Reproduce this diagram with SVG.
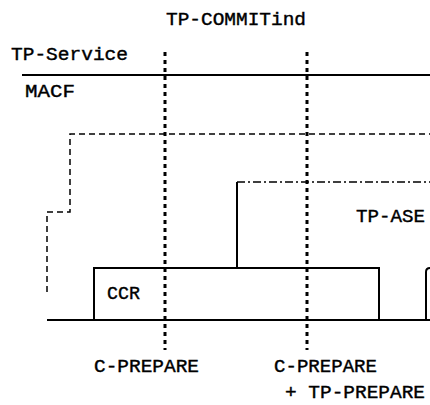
<svg xmlns="http://www.w3.org/2000/svg" width="430" height="405" viewBox="0 0 430 405">
<style>
text{font-family:"Liberation Mono","DejaVu Sans Mono",monospace;font-size:19px;fill:#000;stroke:#000;stroke-width:0.4}
.solid{fill:none;stroke:#000;stroke-width:2}
.dot{fill:none;stroke:#000;stroke-width:3;stroke-dasharray:4 4}
.dash{fill:none;stroke:#000;stroke-width:1.5;stroke-dasharray:6 4}
.dashdot{fill:none;stroke:#000;stroke-width:1.5;stroke-dasharray:8 3 2 3}
</style>
<rect width="430" height="405" fill="#fff"/>
<g id="connectors">
<line class="solid" x1="22" y1="75" x2="430" y2="75"/>
<path class="dash" d="M47,292 V212 H70 V134 H430"/>
<path class="dashdot" d="M237,182 H430"/>
<line class="solid" x1="237" y1="182" x2="237" y2="268"/>
<line class="solid" x1="47" y1="320" x2="430" y2="320"/>
<line class="dot" x1="165" y1="52" x2="165" y2="350"/>
<line class="dot" x1="307" y1="52" x2="307" y2="350"/>
</g>
<g id="ccr">
<rect class="solid" x="94" y="268" width="285" height="52"/>
<text x="107" y="299" textLength="33" lengthAdjust="spacingAndGlyphs">CCR</text>
</g>
<g id="next-box">
<path class="solid" d="M426,320 V272 Q426,268 430,268"/>
</g>
<g id="labels">
<text x="166" y="25" textLength="140" lengthAdjust="spacingAndGlyphs">TP-COMMITind</text>
<text x="11" y="60" textLength="117" lengthAdjust="spacingAndGlyphs">TP-Service</text>
<text x="25" y="97" textLength="50" lengthAdjust="spacingAndGlyphs">MACF</text>
<text x="356" y="222" textLength="69" lengthAdjust="spacingAndGlyphs">TP-ASE</text>
<text x="94" y="372" textLength="105" lengthAdjust="spacingAndGlyphs">C-PREPARE</text>
<text x="274" y="372" textLength="103" lengthAdjust="spacingAndGlyphs">C-PREPARE</text>
<text x="285" y="398" font-size="18" textLength="140" lengthAdjust="spacingAndGlyphs">+ TP-PREPARE</text>
</g>
</svg>
